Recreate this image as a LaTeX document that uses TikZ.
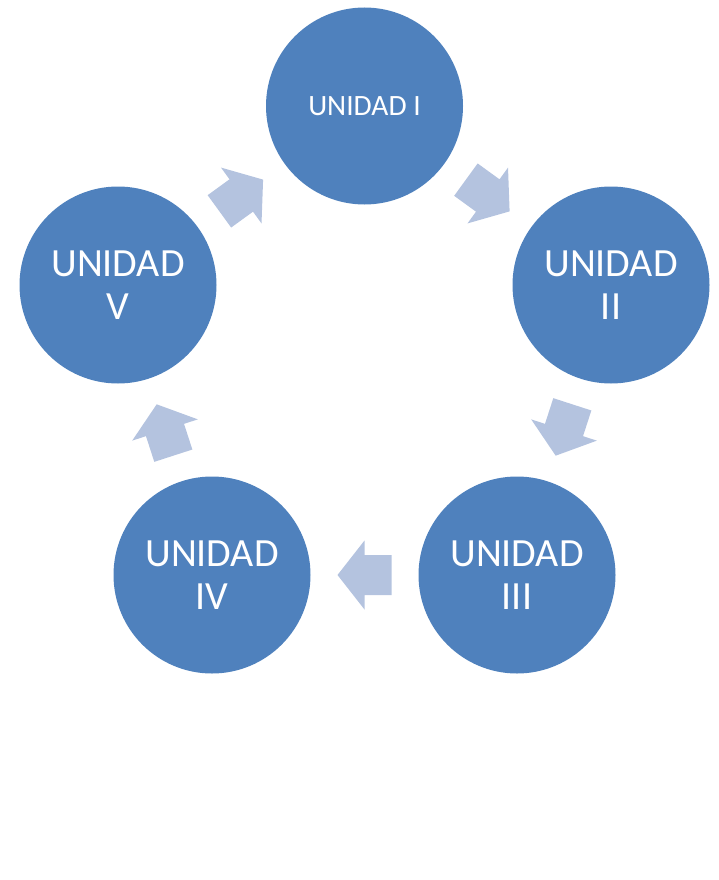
\documentclass[tikz,border=0pt]{standalone}
\usepackage{fontspec}
\setmainfont{Carlito}
\usetikzlibrary{calc}
\definecolor{circcolor}{HTML}{4F81BD}
\definecolor{arrcolor}{HTML}{B4C3DF}

\begin{document}
\begin{tikzpicture}[x=1pt, y=-1pt,
  unidad/.style={circle, fill=circcolor, minimum size=197pt, inner sep=0pt,
    text=white, align=center, font=\fontsize{40}{43}\selectfont},
  flecha/.pic={\fill[arrcolor] (-27,-20) -- (0,-20) -- (0,-34.5) -- (27,0)
    -- (0,34.5) -- (0,20) -- (-27,20) -- cycle;}]
  \useasboundingbox (0,0) rectangle (719,880);
  % Unidades
  \node[unidad, font=\fontsize{29.5}{32}\selectfont] (u1) at (364.5,106) {UNIDAD I};
  \node[unidad] (u2) at (611,285) {UNIDAD\\II};
  \node[unidad] (u3) at (517,575) {UNIDAD\\III};
  \node[unidad] (u4) at (212,575) {UNIDAD\\IV};
  \node[unidad] (u5) at (118,285) {UNIDAD\\V};
  % Flechas del ciclo
  \foreach \a/\b in {u1/u2, u2/u3, u3/u4, u4/u5, u5/u1}
    \path let \p1=(\a.center), \p2=(\b.center), \n1={atan2(\y2-\y1,\x2-\x1)} in
      ($(\p1)!0.5!(\p2)$) pic[rotate=\n1] {flecha};
\end{tikzpicture}
\end{document}
